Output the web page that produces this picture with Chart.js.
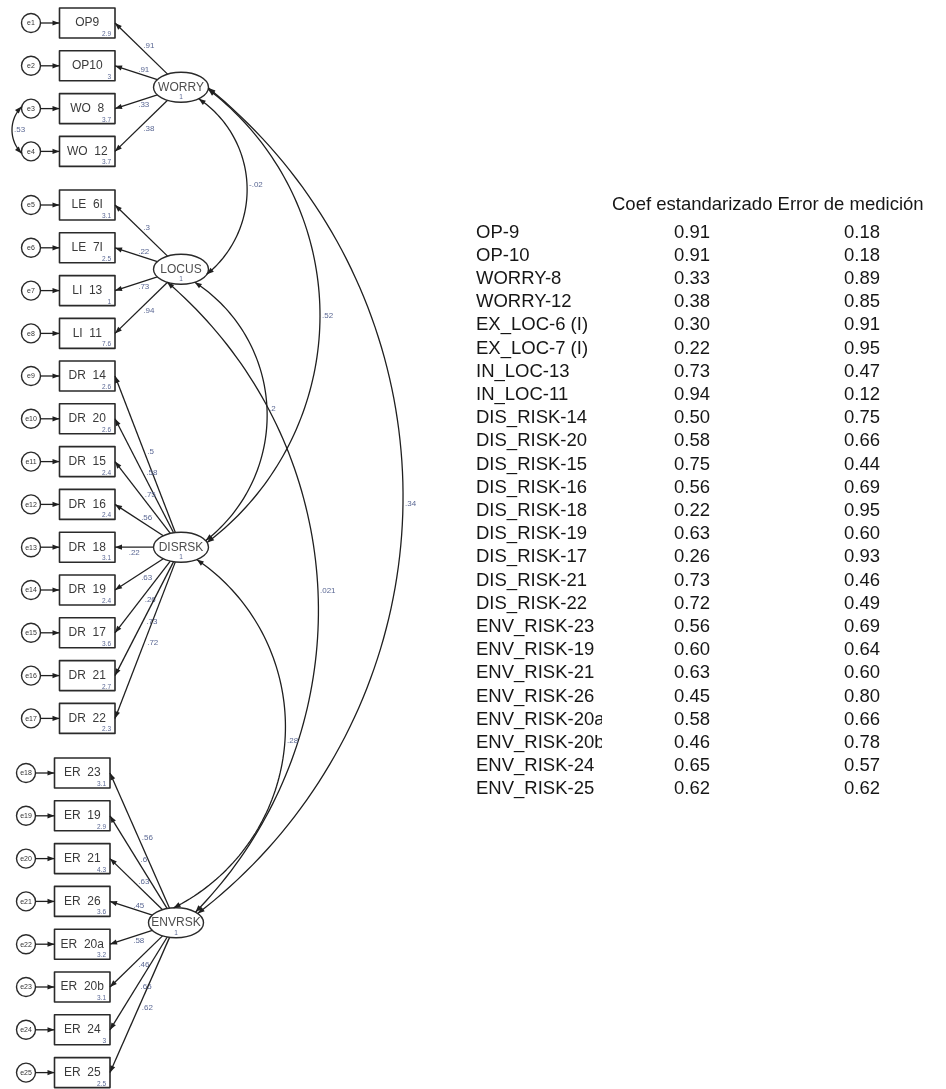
<!DOCTYPE html>
<html>
<head>
<meta charset="utf-8">
<script src="https://cdn.jsdelivr.net/npm/chart.js@4.4.1/dist/chart.umd.min.js"></script>
<style>
  html, body { margin: 0; padding: 0; background: #ffffff; }
  canvas { display: block; }
</style>
</head>
<body>
<canvas id="sem" width="946" height="1089"></canvas>
<script>
// ---- Model: latent factors ----
const latentNames = ['WORRY', 'LOCUS', 'DISRSK', 'ENVRSK'];
const latentVariance = [1, 1, 1, 1];

// ---- Model: observed items (diagram order) ----
const itemLabels = ['OP9', 'OP10', 'WO  8', 'WO  12', 'LE  6I', 'LE  7I', 'LI  13', 'LI  11',
  'DR  14', 'DR  20', 'DR  15', 'DR  16', 'DR  18', 'DR  19', 'DR  17', 'DR  21', 'DR  22',
  'ER  23', 'ER  19', 'ER  21', 'ER  26', 'ER  20a', 'ER  20b', 'ER  24', 'ER  25'];
const itemFactor = [0, 0, 0, 0, 1, 1, 1, 1, 2, 2, 2, 2, 2, 2, 2, 2, 2, 3, 3, 3, 3, 3, 3, 3, 3];
const errorNames = ['e1', 'e2', 'e3', 'e4', 'e5', 'e6', 'e7', 'e8', 'e9', 'e10', 'e11', 'e12', 'e13',
  'e14', 'e15', 'e16', 'e17', 'e18', 'e19', 'e20', 'e21', 'e22', 'e23', 'e24', 'e25'];
const itemIntercepts = [2.9, 3, 3.7, 3.7, 3.1, 2.5, 1, 7.6,
  2.6, 2.6, 2.4, 2.4, 3.1, 2.4, 3.6, 2.7, 2.3,
  3.1, 2.9, 4.3, 3.6, 3.2, 3.1, 3, 2.5];

// ---- Table rows ----
const tableRowLabels = ['OP-9', 'OP-10', 'WORRY-8', 'WORRY-12', 'EX_LOC-6 (I)', 'EX_LOC-7 (I)',
  'IN_LOC-13', 'IN_LOC-11', 'DIS_RISK-14', 'DIS_RISK-20', 'DIS_RISK-15', 'DIS_RISK-16',
  'DIS_RISK-18', 'DIS_RISK-19', 'DIS_RISK-17', 'DIS_RISK-21', 'DIS_RISK-22', 'ENV_RISK-23',
  'ENV_RISK-19', 'ENV_RISK-21', 'ENV_RISK-26', 'ENV_RISK-20a', 'ENV_RISK-20b', 'ENV_RISK-24',
  'ENV_RISK-25'];
const tableHeader = 'Coef estandarizado Error de medición';
const stdLoadings = [0.91, 0.91, 0.33, 0.38, 0.30, 0.22, 0.73, 0.94,
  0.50, 0.58, 0.75, 0.56, 0.22, 0.63, 0.26, 0.73, 0.72,
  0.56, 0.60, 0.63, 0.45, 0.58, 0.46, 0.65, 0.62];
const measurementError = [0.18, 0.18, 0.89, 0.85, 0.91, 0.95, 0.47, 0.12,
  0.75, 0.66, 0.44, 0.69, 0.95, 0.60, 0.93, 0.46, 0.49,
  0.69, 0.64, 0.60, 0.80, 0.66, 0.78, 0.57, 0.62];

// ---- Factor covariances ----
const covFrom = [0, 0, 0, 1, 1, 2];
const covTo = [1, 2, 3, 2, 3, 3];
const covValues = [-0.02, 0.52, 0.34, 0.2, 0.021, 0.28];

// ---- Correlated residuals ----
const errCovFrom = [2];
const errCovTo = [3];
const errCovValues = [0.53];

// ---- Layout of the path diagram (diagram units = canvas pixels) ----
const LAYOUT = {
  groupTop: [23, 205, 376, 773],
  rowStep: 42.8,
  boxLeft: [59.5, 59.5, 59.5, 54.5],
  boxW: 55.5, boxH: 30,
  latentDx: 66, ellRx: 27.5, ellRy: 15,
  errR: 9.5, errDx: 28.5,
  // parametric ellipse angles (deg) at both ends and the x reached by the arc
  covShape: [
    { a0: 50, a1: 20, apexX: 247 },
    { a0: 8, a1: -18, apexX: 320 },
    { a0: 3, a1: -38, apexX: 403 },
    { a0: 60, a1: -26, apexX: 267 },
    { a0: 120, a1: -45, apexX: 318 },
    { a0: 55, a1: -95, apexX: 285 }
  ],
  errCovShape: [{ a0: 192, a1: 168, apexX: 12 }],
  table: { header: { x: 612, y: 205 }, labelX: 476, clipX: 602, coefX: 692, errX: 862, row0: 232.5, rowStep: 23.2 }
};

const STYLE = {
  line: '#1f1f1f',
  shape: '#2a2a2a',
  itemText: '#3a3a3a',
  latentText: '#4d4d4d',
  numText: '#5b6894',
  tableText: '#161616',
  font: "'Liberation Sans', Arial, Helvetica, sans-serif"
};

function fmtCoef(v) {
  return parseFloat(v.toFixed(3)).toString().replace(/^(-?)0\./, '$1.');
}

const semDiagram = {
  id: 'semDiagram',
  afterDatasetsDraw(chart) {
    const { ctx } = chart;
    const xs = chart.scales.x, ys = chart.scales.y;
    const X = v => xs.getPixelForValue(v);
    const Y = v => ys.getPixelForValue(v);
    const PX = p => [X(p.x), Y(p.y)];
    const L = LAYOUT;

    // item geometry
    const items = itemLabels.map((lab, i) => {
      const g = itemFactor[i];
      const k = i - itemFactor.indexOf(g);
      const cy = L.groupTop[g] + k * L.rowStep;
      const left = L.boxLeft[g];
      return { g, cy, left, right: left + L.boxW, top: cy - L.boxH / 2, bottom: cy + L.boxH / 2,
        ex: left - L.errDx, ey: cy };
    });
    // latent geometry
    const latents = latentNames.map((name, g) => {
      const rows = items.filter(it => it.g === g);
      const cy = rows.reduce((s, it) => s + it.cy, 0) / rows.length;
      return { cx: L.boxLeft[g] + L.boxW + L.latentDx, cy };
    });
    const ellPt = (lt, deg) => ({ x: lt.cx + L.ellRx * Math.cos(deg * Math.PI / 180),
      y: lt.cy + L.ellRy * Math.sin(deg * Math.PI / 180) });
    const circPt = (it, deg) => ({ x: it.ex + L.errR * Math.cos(deg * Math.PI / 180),
      y: it.ey + L.errR * Math.sin(deg * Math.PI / 180) });

    const head = (tip, from, len = 7, half = 2.6) => {
      const dx = tip[0] - from[0], dy = tip[1] - from[1];
      const d = Math.hypot(dx, dy) || 1;
      const ux = dx / d, uy = dy / d;
      const bx = tip[0] - ux * len, by = tip[1] - uy * len;
      ctx.beginPath();
      ctx.moveTo(tip[0], tip[1]);
      ctx.lineTo(bx - uy * half, by + ux * half);
      ctx.lineTo(bx + uy * half, by - ux * half);
      ctx.closePath();
      ctx.fill();
    };
    const arrow = (a, b) => {
      const pa = PX(a), pb = PX(b);
      ctx.beginPath();
      ctx.moveTo(pa[0], pa[1]);
      ctx.lineTo(pb[0], pb[1]);
      ctx.stroke();
      head(pb, pa);
    };
    const arcPts = (p0, p1, apexX, n = 90) => {
      const mx = (p0.x + p1.x) / 2, my = (p0.y + p1.y) / 2;
      const vx = p1.x - p0.x, vy = p1.y - p0.y, c = Math.hypot(vx, vy);
      let nx = vy / c, ny = -vx / c;
      if (nx < 0) { nx = -nx; ny = -ny; }
      const s = (apexX - mx) / nx;
      const R = (c * c / 4 + s * s) / (2 * s);
      const ox = mx + nx * (s - R), oy = my + ny * (s - R);
      const apex = { x: mx + nx * s, y: my + ny * s };
      const tw = 2 * Math.PI;
      const norm = a => ((a % tw) + tw) % tw;
      const a0 = Math.atan2(p0.y - oy, p0.x - ox);
      const a1 = Math.atan2(p1.y - oy, p1.x - ox);
      const aA = Math.atan2(apex.y - oy, apex.x - ox);
      const d1 = norm(a1 - a0), dA = norm(aA - a0);
      const sweep = dA <= d1 ? d1 : d1 - tw;
      const r = Math.abs(R);
      const pts = [];
      for (let i = 0; i <= n; i++) {
        const a = a0 + sweep * i / n;
        pts.push({ x: ox + r * Math.cos(a), y: oy + r * Math.sin(a) });
      }
      return { pts, apex };
    };
    const twoHeadArc = (p0, p1, apexX, label) => {
      const { pts, apex } = arcPts(p0, p1, apexX);
      const pp = pts.map(PX);
      ctx.beginPath();
      ctx.moveTo(pp[0][0], pp[0][1]);
      for (let i = 1; i < pp.length; i++) ctx.lineTo(pp[i][0], pp[i][1]);
      ctx.stroke();
      head(pp[0], pp[3]);
      head(pp[pp.length - 1], pp[pp.length - 4]);
      ctx.save();
      ctx.fillStyle = STYLE.numText;
      ctx.font = '8px ' + STYLE.font;
      ctx.textAlign = 'left';
      ctx.textBaseline = 'middle';
      ctx.fillText(label, X(apex.x + 2), Y(apex.y));
      ctx.restore();
    };

    ctx.save();
    ctx.lineJoin = 'round';

    // ---- item boxes and residual circles ----
    items.forEach((it, i) => {
      ctx.strokeStyle = STYLE.shape;
      ctx.lineWidth = 1.6;
      ctx.fillStyle = '#ffffff';
      ctx.beginPath();
      ctx.rect(X(it.left), Y(it.top), X(it.right) - X(it.left), Y(it.bottom) - Y(it.top));
      ctx.fill();
      ctx.stroke();

      ctx.lineWidth = 1.4;
      ctx.beginPath();
      ctx.arc(X(it.ex), Y(it.ey), X(it.ex + L.errR) - X(it.ex), 0, Math.PI * 2);
      ctx.stroke();

      ctx.strokeStyle = STYLE.line;
      ctx.fillStyle = STYLE.line;
      ctx.lineWidth = 1.3;
      arrow({ x: it.ex + L.errR, y: it.ey }, { x: it.left, y: it.cy });

      ctx.fillStyle = STYLE.itemText;
      ctx.font = '12px ' + STYLE.font;
      ctx.textAlign = 'center';
      ctx.textBaseline = 'middle';
      ctx.fillText(itemLabels[i], X((it.left + it.right) / 2), Y(it.cy));

      ctx.fillStyle = STYLE.numText;
      ctx.font = '6.5px ' + STYLE.font;
      ctx.textAlign = 'right';
      ctx.textBaseline = 'alphabetic';
      ctx.fillText(String(itemIntercepts[i]), X(it.right - 4), Y(it.bottom - 2));

      ctx.fillStyle = '#333333';
      ctx.font = '7px ' + STYLE.font;
      ctx.textAlign = 'center';
      ctx.textBaseline = 'middle';
      ctx.fillText(errorNames[i], X(it.ex), Y(it.ey + 0.5));
    });

    // ---- factor loadings ----
    items.forEach((it, i) => {
      const lt = latents[it.g];
      const tgt = { x: it.right, y: it.cy };
      const dx = tgt.x - lt.cx, dy = tgt.y - lt.cy;
      const t = 1 / Math.sqrt((dx / L.ellRx) ** 2 + (dy / L.ellRy) ** 2);
      const src = { x: lt.cx + dx * t, y: lt.cy + dy * t };
      ctx.strokeStyle = STYLE.line;
      ctx.fillStyle = STYLE.line;
      ctx.lineWidth = 1.3;
      arrow(src, tgt);

      const mid = { x: (src.x + tgt.x) / 2, y: (src.y + tgt.y) / 2 };
      ctx.fillStyle = STYLE.numText;
      ctx.font = '8px ' + STYLE.font;
      ctx.textBaseline = 'middle';
      if (Math.abs(dy) <= 5) {
        ctx.textAlign = 'center';
        ctx.fillText(fmtCoef(stdLoadings[i]), X(mid.x), Y(mid.y + 5.5));
      } else {
        ctx.textAlign = 'left';
        ctx.fillText(fmtCoef(stdLoadings[i]), X(mid.x + 2), Y(mid.y + (dy < 0 ? -2.5 : 3)));
      }
    });

    // ---- latent ellipses ----
    latents.forEach((lt, g) => {
      ctx.strokeStyle = STYLE.shape;
      ctx.lineWidth = 1.4;
      ctx.fillStyle = '#ffffff';
      ctx.beginPath();
      ctx.ellipse(X(lt.cx), Y(lt.cy), X(lt.cx + L.ellRx) - X(lt.cx), Math.abs(Y(lt.cy + L.ellRy) - Y(lt.cy)), 0, 0, Math.PI * 2);
      ctx.fill();
      ctx.stroke();
      ctx.fillStyle = STYLE.latentText;
      ctx.font = '12px ' + STYLE.font;
      ctx.textAlign = 'center';
      ctx.textBaseline = 'middle';
      ctx.fillText(latentNames[g], X(lt.cx), Y(lt.cy));
      ctx.fillStyle = STYLE.numText;
      ctx.font = '6.5px ' + STYLE.font;
      ctx.fillText(String(latentVariance[g]), X(lt.cx), Y(lt.cy + 10.5));
    });

    // ---- factor covariances ----
    ctx.strokeStyle = STYLE.line;
    ctx.fillStyle = STYLE.line;
    ctx.lineWidth = 1.3;
    covValues.forEach((v, k) => {
      const sh = L.covShape[k];
      const p0 = ellPt(latents[covFrom[k]], sh.a0);
      const p1 = ellPt(latents[covTo[k]], sh.a1);
      ctx.strokeStyle = STYLE.line;
      ctx.fillStyle = STYLE.line;
      twoHeadArc(p0, p1, sh.apexX, fmtCoef(v));
    });

    // ---- residual covariances ----
    errCovValues.forEach((v, k) => {
      const sh = L.errCovShape[k];
      const p0 = circPt(items[errCovFrom[k]], sh.a0);
      const p1 = circPt(items[errCovTo[k]], sh.a1);
      ctx.strokeStyle = STYLE.line;
      ctx.fillStyle = STYLE.line;
      twoHeadArc(p0, p1, sh.apexX, fmtCoef(v));
    });

    // ---- coefficient table ----
    const T = L.table;
    ctx.fillStyle = STYLE.tableText;
    ctx.font = '18.5px ' + STYLE.font;
    ctx.textBaseline = 'middle';
    ctx.textAlign = 'left';
    ctx.fillText(tableHeader, X(T.header.x), Y(T.header.y));
    tableRowLabels.forEach((lab, i) => {
      const yy = Y(T.row0 + i * T.rowStep);
      ctx.save();
      ctx.beginPath();
      ctx.rect(X(T.labelX - 4), yy - 14, X(T.clipX) - X(T.labelX - 4), 28);
      ctx.clip();
      ctx.textAlign = 'left';
      ctx.fillText(lab, X(T.labelX), yy);
      ctx.restore();
      ctx.textAlign = 'center';
      ctx.fillText(stdLoadings[i].toFixed(2), X(T.coefX), yy);
      ctx.fillText(measurementError[i].toFixed(2), X(T.errX), yy);
    });

    ctx.restore();
  }
};

new Chart(document.getElementById('sem'), {
  type: 'scatter',
  data: { datasets: [] },
  options: {
    responsive: false,
    animation: false,
    devicePixelRatio: 1,
    layout: { padding: 0 },
    plugins: { legend: { display: false }, tooltip: { enabled: false } },
    scales: {
      x: { type: 'linear', min: 0, max: 946, display: false },
      y: { type: 'linear', min: 0, max: 1089, reverse: true, display: false }
    }
  },
  plugins: [semDiagram]
});
</script>
</body>
</html>
